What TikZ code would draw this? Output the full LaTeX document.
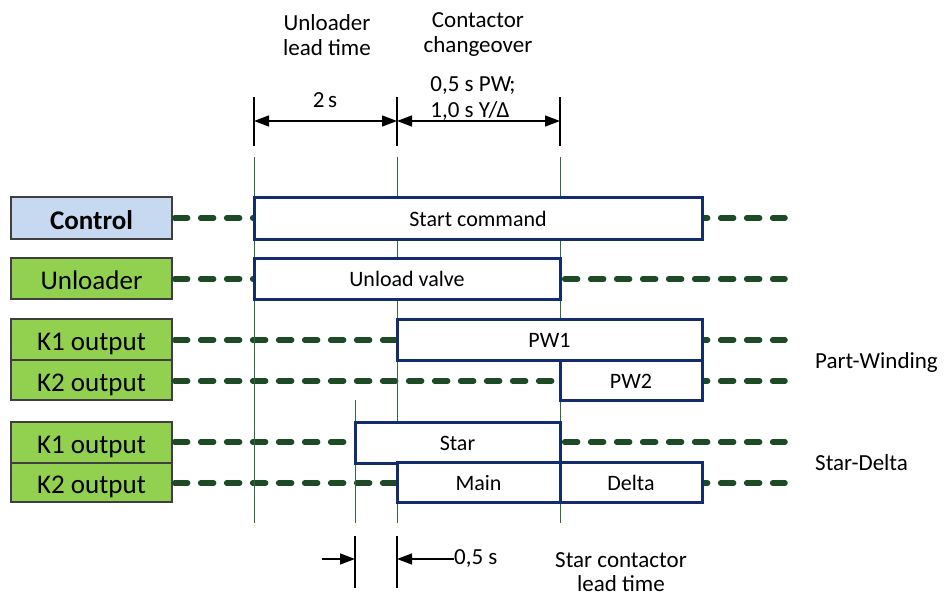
\documentclass[tikz,border=0pt]{standalone}
\usepackage{fontspec}
\setmainfont{Carlito}
\usetikzlibrary{arrows.meta}
\definecolor{navy}{HTML}{132C6E}
\definecolor{dgreen}{HTML}{1E4A28}
\definecolor{vgreen}{HTML}{2F6B3C}
\definecolor{lblue}{HTML}{C6D9F1}
\definecolor{lgreen}{HTML}{92D050}
\definecolor{lborder}{HTML}{3F3F3F}
\tikzset{
  lbl/.style={draw=lborder, line width=1.3pt, minimum width=161pt, inner sep=0pt, text height=22pt, text depth=0pt, font=\fontsize{27}{30}\selectfont, text=black},
  tbox/.style={draw=navy, fill=white, line width=3pt, inner sep=0pt, text height=16pt, text depth=0pt, font=\fontsize{22}{26}\selectfont},
  ann/.style={font=\fontsize{23}{27}\selectfont, inner sep=0pt, align=center},
  dsh/.style={dgreen, line width=5.5pt, line cap=round, dash pattern=on 13pt off 13pt},
  vln/.style={vgreen, line width=1pt},
  tick/.style={black, line width=1.3pt},
  dim/.style={black, line width=1.3pt, arrows={Triangle[length=15pt,width=11pt]-Triangle[length=15pt,width=11pt]}},
  dimr/.style={black, line width=1.3pt, -{Triangle[length=15pt,width=11pt]}},
}
\begin{document}
\begin{tikzpicture}[x=1pt,y=-1pt]
\useasboundingbox (0,0) rectangle (946,597);

% label boxes
\node[lbl, fill=lblue, minimum height=42pt, font=\fontsize{27}{30}\selectfont\bfseries] (ctl) at (91.5,218) {Control};
\node[lbl, fill=lgreen, minimum height=41pt] (unl) at (91.5,278.5) {Unloader};
\node[lbl, fill=lgreen, minimum height=41pt] (ka) at (91.5,339.5) {K1 output};
\node[lbl, fill=lgreen, minimum height=40pt] (kb) at (91.5,380) {K2 output};
\node[lbl, fill=lgreen, minimum height=41pt] (kc) at (91.5,442.5) {K1 output};
\node[lbl, fill=lgreen, minimum height=39pt] (kd) at (91.5,482.5) {K2 output};

% dashed end points
\coordinate (e1) at (785,218);
\coordinate (e2) at (785,279);
\coordinate (e3) at (785,340);
\coordinate (e4) at (785,381);
\coordinate (e5) at (785,442);
\coordinate (e6) at (785,483);
\draw[dsh] ([xshift=2pt]ctl.east |- e1) -- (e1);
\draw[dsh] ([xshift=2pt]unl.east |- e2) -- (e2);
\draw[dsh] ([xshift=2pt]ka.east |- e3) -- (e3);
\draw[dsh] ([xshift=2pt]kb.east |- e4) -- (e4);
\draw[dsh] ([xshift=2pt]kc.east |- e5) -- (e5);
\draw[dsh] ([xshift=2pt]kd.east |- e6) -- (e6);

% green vertical guide lines
\coordinate (va1) at (254,157); \coordinate (va2) at (254,523);
\coordinate (vb1) at (397,157); \coordinate (vb2) at (397,523);
\coordinate (vc1) at (560,157); \coordinate (vc2) at (560,523);
\coordinate (vd1) at (355,400); \coordinate (vd2) at (355,523);
\draw[vln] (va1) -- (va2);
\draw[vln] (vb1) -- (vb2);
\draw[vln] (vc1) -- (vc2);
\draw[vln] (vd1) -- (vd2);

% timing boxes
\node[tbox, minimum width=448pt, minimum height=42pt] (start) at (478,218) {Start command};
\node[tbox, minimum width=306pt, minimum height=41pt] (uv) at (407,278.5) {Unload valve};
\node[tbox, minimum width=305pt, minimum height=41pt] (pw1) at (549.5,339.5) {PW1};
\node[tbox, minimum width=142pt, minimum height=40pt] (pw2) at (631,380) {PW2};
\node[tbox, minimum width=205pt, minimum height=41pt] (star) at (457.5,442.5) {Star};
\node[tbox, minimum width=163pt, minimum height=40pt] (main) at (478.5,482.5) {Main};
\node[tbox, minimum width=142pt, minimum height=40pt] (delta) at (631,482.5) {Delta};

% top dimensions
\coordinate (ta1) at (254,97); \coordinate (ta2) at (254,146);
\coordinate (tb1) at (397,97); \coordinate (tb2) at (397,146);
\coordinate (tc1) at (560,97); \coordinate (tc2) at (560,146);
\draw[tick] (ta1) -- (ta2);
\draw[tick] (tb1) -- (tb2);
\draw[tick] (tc1) -- (tc2);
\coordinate (da) at (254,121);
\coordinate (db) at (397,121);
\coordinate (dc) at (560,121);
\draw[dim] (da) -- (db);
\draw[dim] (db) -- (dc);

\node[ann] (t1) at (327,35) {Unloader\\[-2pt]lead time};
\node[ann] (t2) at (478,35) {Contactor\\[-2pt]changeover};
\node[ann] (t3) at (325,100) {2\,s};
\node[ann] (t4) at (473,86) {0,5 s PW;};
\node[ann] (t5) at (470,111) {1,0 s Y/Δ};

% bottom dimension
\coordinate (ba1) at (355,536); \coordinate (ba2) at (355,588);
\coordinate (bb1) at (397,536); \coordinate (bb2) at (397,588);
\draw[tick] (ba1) -- (ba2);
\draw[tick] (bb1) -- (bb2);
\coordinate (bl) at (322,559);
\coordinate (bh) at (355,559);
\coordinate (bk) at (397,559);
\coordinate (bt) at (454,559);
\node[ann, anchor=west] (half) at (bt) {0,5 s};
\draw[dimr] (bl) -- (bh);
\draw[dimr] (bt) -- (bk);
\node[ann] (slt) at (621,572) {Star contactor\\[-3pt]lead time};

% right labels
\node[ann, anchor=west] (pwl) at (815,362) {Part-Winding};
\node[ann, anchor=west] (sdl) at (815,463) {Star-Delta};
\end{tikzpicture}
\end{document}
